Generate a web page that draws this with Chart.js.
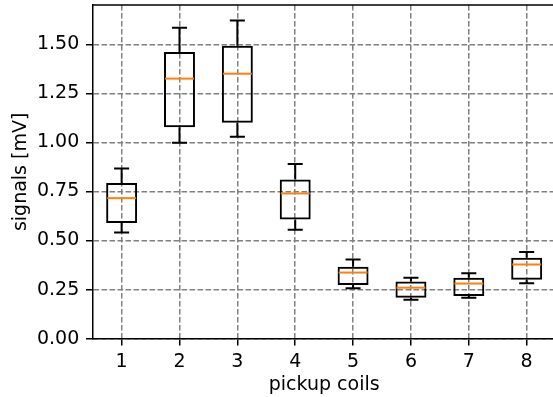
<!DOCTYPE html>
<html>
<head>
<meta charset="utf-8">
<script src="https://cdn.jsdelivr.net/npm/chart.js@4"></script>
<style>
  html, body { margin: 0; padding: 0; overflow: hidden; background: #fff; }
  #wrap { width: 560px; height: 397px; }
</style>
</head>
<body>
<div id="wrap"><canvas id="myChart"></canvas></div>
<script>
const coils = ['1', '2', '3', '4', '5', '6', '7', '8'];
const whiskerLow = [0.541, 0.998, 1.029, 0.555, 0.257, 0.199, 0.208, 0.283];
const quartile1 = [0.590, 1.077, 1.100, 0.607, 0.274, 0.208, 0.218, 0.300];
const medians = [0.716, 1.325, 1.350, 0.740, 0.337, 0.260, 0.281, 0.378];
const quartile3 = [0.793, 1.461, 1.492, 0.811, 0.367, 0.291, 0.311, 0.413];
const whiskerHigh = [0.867, 1.584, 1.621, 0.890, 0.403, 0.311, 0.334, 0.442];
const yTicks = [0, 0.25, 0.5, 0.75, 1.0, 1.25, 1.5];

Chart.defaults.font.family = "'DejaVu Sans', sans-serif";
Chart.defaults.font.size = 19;
Chart.defaults.color = '#000';

/**
 * Whiskers, caps and medians of each box, plus the top spine.
 */
const boxParts = {
    id: 'boxParts',
    afterDatasetsDraw(chart) {
        const ctx = chart.ctx;
        const x = chart.scales.x;
        const y = chart.scales.y;
        const unit = x.getPixelForValue(1) - x.getPixelForValue(0);
        ctx.save();
        ctx.lineWidth = 2;
        ctx.lineCap = 'butt';
        for (let i = 0; i < coils.length; i++) {
            const cx = x.getPixelForValue(i);
            ctx.strokeStyle = '#000';
            ctx.beginPath();
            ctx.moveTo(cx, y.getPixelForValue(quartile3[i]));
            ctx.lineTo(cx, y.getPixelForValue(whiskerHigh[i]));
            ctx.moveTo(cx, y.getPixelForValue(quartile1[i]));
            ctx.lineTo(cx, y.getPixelForValue(whiskerLow[i]));
            ctx.moveTo(cx - unit * 0.13, y.getPixelForValue(whiskerHigh[i]));
            ctx.lineTo(cx + unit * 0.13, y.getPixelForValue(whiskerHigh[i]));
            ctx.moveTo(cx - unit * 0.13, y.getPixelForValue(whiskerLow[i]));
            ctx.lineTo(cx + unit * 0.13, y.getPixelForValue(whiskerLow[i]));
            ctx.stroke();
            ctx.strokeStyle = '#ff7f0e';
            ctx.beginPath();
            ctx.moveTo(cx - unit * 0.25, y.getPixelForValue(medians[i]));
            ctx.lineTo(cx + unit * 0.25, y.getPixelForValue(medians[i]));
            ctx.stroke();
        }
        const area = chart.chartArea;
        ctx.strokeStyle = '#000';
        ctx.lineWidth = 1.5;
        ctx.beginPath();
        ctx.moveTo(area.left, area.top);
        ctx.lineTo(area.right, area.top);
        ctx.lineTo(area.right, area.bottom);
        ctx.stroke();
        ctx.restore();
    }
};

function initChart() {
    const ctx = document.getElementById('myChart').getContext('2d');
    new Chart(ctx, {
        type: 'bar',
        data: {
            labels: coils,
            datasets: [{
                data: quartile1.map((q, i) => [q, quartile3[i]]),
                backgroundColor: 'rgba(0,0,0,0)',
                borderColor: '#000',
                borderWidth: 2,
                inflateAmount: 0,
                borderSkipped: false,
                categoryPercentage: 1,
                barPercentage: 0.535
            }]
        },
        options: {
            animation: false,
            responsive: true,
            maintainAspectRatio: false,
            devicePixelRatio: 1,
            layout: { padding: { top: 5, right: 4.4, left: 0, bottom: 0 } },
            plugins: {
                legend: { display: false },
                tooltip: { enabled: false }
            },
            scales: {
                x: {
                    offset: true,
                    afterFit(scale) {
                        scale.height = 58.3;
                        scale.paddingLeft = 0;
                        scale.paddingRight = 0;
                    },
                    grid: {
                        offset: false,
                        color: '#808080',
                        lineWidth: 1.5,
                        tickColor: '#000',
                        tickWidth: 1.5,
                        tickLength: 6.7
                    },
                    border: { color: '#000', width: 1.5, dash: [5.6, 2.4] },
                    ticks: { padding: 5.3, maxRotation: 0, autoSkip: false },
                    title: { display: true, text: 'pickup coils', padding: { top: 0, bottom: 0.5 } }
                },
                y: {
                    min: 0,
                    max: 1.70,
                    afterFit(scale) {
                        scale.width = 92.7;
                        scale.paddingTop = 0;
                        scale.paddingBottom = 0;
                    },
                    afterBuildTicks(scale) { scale.ticks = yTicks.map(v => ({ value: v })); },
                    grid: {
                        color: '#808080',
                        lineWidth: 1.5,
                        tickColor: '#000',
                        tickWidth: 1.5,
                        tickLength: 6.7
                    },
                    border: { color: '#000', width: 1.5, dash: [5.6, 2.4] },
                    ticks: {
                        padding: 6.7,
                        callback: v => v.toFixed(2)
                    },
                    title: { display: true, text: 'signals [mV]', padding: { top: 9.3, bottom: 0 } }
                }
            }
        },
        plugins: [boxParts]
    });
}

initChart();
</script>
</body>
</html>
